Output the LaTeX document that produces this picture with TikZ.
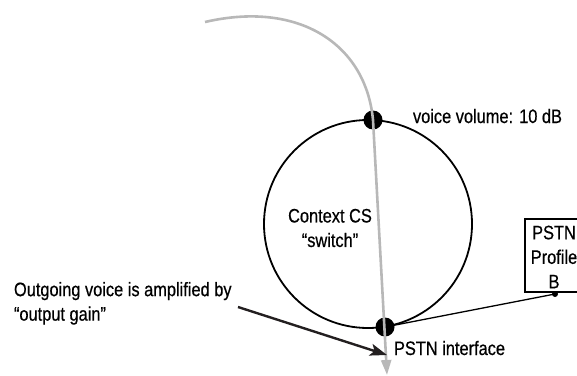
\documentclass[tikz,border=0pt]{standalone}
\usepackage{fontspec}
\setmainfont[FakeStretch=0.84,FakeBold=0.5]{Liberation Sans}
\usetikzlibrary{arrows.meta}
\definecolor{flowgray}{HTML}{B8B8B8}
\definecolor{inkdark}{HTML}{231F20}
\tikzset{
  lbl/.style={inner sep=0pt, outer sep=0pt, font=\fontsize{19.5}{24.5}\selectfont},
  bigdot/.style={circle, fill=black, minimum size=19pt, inner sep=0pt},
  smalldot/.style={circle, fill=black, minimum size=6pt, inner sep=0pt},
  ctxcircle/.style={circle, draw=black, line width=1.8pt, minimum size=208pt, inner sep=0pt},
  profbox/.style={draw=black, line width=2.4pt, minimum width=53pt, minimum height=73pt, inner sep=0pt},
  grayflow/.style={draw=flowgray, line width=2.6pt, -{Triangle[length=15pt,width=10pt]}},
  callout/.style={draw=inkdark, line width=2.4pt, -{Stealth[length=17pt,width=12pt,inset=4pt]}},
  link/.style={draw=black, line width=1.3pt}
}
\begin{document}
\begin{tikzpicture}[x=1pt,y=-1pt]
\useasboundingbox (0,0) rectangle (577,375);
% context circle
\node[ctxcircle] (cs) at (368,224) {};
\node[lbl, align=center] (ctx) at (330,228) {Context CS\\“switch”};
% dots
\node[bigdot] (top) at (373,120) {};
\node[bigdot] (bot) at (385,327) {};
% profile box
\node[profbox] (pbox) at (551.5,255.5) {};
\node[lbl, align=center] (ptext) at (554,257) {PSTN\\Profile\\B};
\node[smalldot] (pdot) at (555,294) {};
\draw[link] (bot.center) -- (pdot.center);
% labels
\node[lbl, anchor=base west] (vv) at (413,123) {voice volume: 10 dB};
\node[lbl, anchor=base west] (pi) at (394,355) {PSTN interface};
\node[lbl, anchor=north west, align=left] (og) at (14,282) {Outgoing voice is amplified by\\“output gain”};
% gray flow
\coordinate (gs) at (205,22);
\coordinate (ge) at (387,375);
\draw[grayflow] (gs) .. controls (300,0) and (366,45) .. (top.center) -- (ge);
% callout arrow
\coordinate (oa) at (238,307);
\coordinate (ot) at (387,355);
\draw[callout] (oa) -- (ot);
\end{tikzpicture}
\end{document}
